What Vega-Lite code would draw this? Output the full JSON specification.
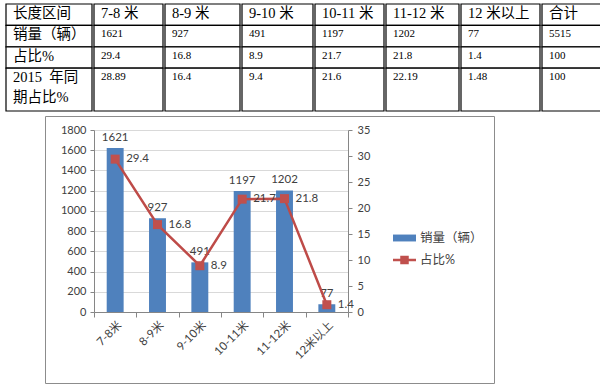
{
  "$schema": "https://vega.github.io/schema/vega-lite/v6.json",
  "padding": {"left": 5, "top": 3, "right": 0, "bottom": 0},
  "background": "#ffffff",
  "spacing": 3,
  "config": {"view": {"stroke": null}, "concat": {"spacing": 0}},
  "datasets": {
    "chart": [
      {"cat": "7-8米", "sales": 1621, "pct": 29.4},
      {"cat": "8-9米", "sales": 927, "pct": 16.8},
      {"cat": "9-10米", "sales": 491, "pct": 8.9},
      {"cat": "10-11米", "sales": 1197, "pct": 21.7},
      {"cat": "11-12米", "sales": 1202, "pct": 21.8},
      {"cat": "12米以上", "sales": 77, "pct": 1.4}
    ],
    "tbl": [
      {"c": 0, "r0": 0, "r1": 1, "t": "长度区间"},
      {"c": 0, "r0": 1, "r1": 2, "t": "销量（辆）"},
      {"c": 0, "r0": 2, "r1": 3, "t": "占比%"},
      {"c": 0, "r0": 3, "r1": 5, "t": "2015\u00a0\u00a0年同\n期占比%"},
      {"c": 1, "r0": 0, "r1": 1, "t": "7-8 米"},
      {"c": 1, "r0": 1, "r1": 2, "t": "1621"},
      {"c": 1, "r0": 2, "r1": 3, "t": "29.4"},
      {"c": 1, "r0": 3, "r1": 5, "t": "28.89"},
      {"c": 2, "r0": 0, "r1": 1, "t": "8-9 米"},
      {"c": 2, "r0": 1, "r1": 2, "t": "927"},
      {"c": 2, "r0": 2, "r1": 3, "t": "16.8"},
      {"c": 2, "r0": 3, "r1": 5, "t": "16.4"},
      {"c": 3, "r0": 0, "r1": 1, "t": "9-10 米"},
      {"c": 3, "r0": 1, "r1": 2, "t": "491"},
      {"c": 3, "r0": 2, "r1": 3, "t": "8.9"},
      {"c": 3, "r0": 3, "r1": 5, "t": "9.4"},
      {"c": 4, "r0": 0, "r1": 1, "t": "10-11 米"},
      {"c": 4, "r0": 1, "r1": 2, "t": "1197"},
      {"c": 4, "r0": 2, "r1": 3, "t": "21.7"},
      {"c": 4, "r0": 3, "r1": 5, "t": "21.6"},
      {"c": 5, "r0": 0, "r1": 1, "t": "11-12 米"},
      {"c": 5, "r0": 1, "r1": 2, "t": "1202"},
      {"c": 5, "r0": 2, "r1": 3, "t": "21.8"},
      {"c": 5, "r0": 3, "r1": 5, "t": "22.19"},
      {"c": 6, "r0": 0, "r1": 1, "t": "12 米以上"},
      {"c": 6, "r0": 1, "r1": 2, "t": "77"},
      {"c": 6, "r0": 2, "r1": 3, "t": "1.4"},
      {"c": 6, "r0": 3, "r1": 5, "t": "1.48"},
      {"c": 7, "r0": 0, "r1": 1, "t": "合计"},
      {"c": 7, "r0": 1, "r1": 2, "t": "5515"},
      {"c": 7, "r0": 2, "r1": 3, "t": "100"},
      {"c": 7, "r0": 3, "r1": 5, "t": "100"}
    ]
  },
  "vconcat": [
    {
      "spacing": 0,
      "hconcat": [
        {"width": 86, "height": 107, "data": {"name": "tbl"}, "transform": [{"filter": "datum.c == 0"}],
         "encoding": {"y": {"field": "r0", "type": "quantitative", "scale": {"domain": [0, 5], "reverse": true, "nice": false, "zero": false}, "axis": null}},
         "layer": [
           {"mark": {"type": "rect", "fill": "#ffffff", "stroke": "#000000", "strokeWidth": 1.2},
            "encoding": {"x": {"datum": 0, "type": "quantitative", "scale": {"domain": [0, 1], "nice": false}, "axis": null}, "x2": {"datum": 1}, "y2": {"field": "r1"}}},
           {"mark": {"type": "text", "align": "left", "baseline": "top", "dx": 7, "dy": 3, "font": "Liberation Serif, Noto Sans CJK SC", "color": "#000000", "lineBreak": "\n", "lineHeight": 20},
            "encoding": {"x": {"datum": 0, "type": "quantitative", "axis": null}, "text": {"field": "t"}, "size": {"condition": {"test": "datum.r0 == 0 || datum.c == 0", "value": 14.5}, "value": 11}}}
         ]},
        {"width": 69, "height": 107, "data": {"name": "tbl"}, "transform": [{"filter": "datum.c == 1"}],
         "encoding": {"y": {"field": "r0", "type": "quantitative", "scale": {"domain": [0, 5], "reverse": true, "nice": false, "zero": false}, "axis": null}},
         "layer": [
           {"mark": {"type": "rect", "fill": "#ffffff", "stroke": "#000000", "strokeWidth": 1.2},
            "encoding": {"x": {"datum": 0, "type": "quantitative", "scale": {"domain": [0, 1], "nice": false}, "axis": null}, "x2": {"datum": 1}, "y2": {"field": "r1"}}},
           {"mark": {"type": "text", "align": "left", "baseline": "top", "dx": 7, "dy": 3, "font": "Liberation Serif, Noto Sans CJK SC", "color": "#000000", "lineBreak": "\n", "lineHeight": 20},
            "encoding": {"x": {"datum": 0, "type": "quantitative", "axis": null}, "text": {"field": "t"}, "size": {"condition": {"test": "datum.r0 == 0 || datum.c == 0", "value": 14.5}, "value": 11}}}
         ]},
        {"width": 75, "height": 107, "data": {"name": "tbl"}, "transform": [{"filter": "datum.c == 2"}],
         "encoding": {"y": {"field": "r0", "type": "quantitative", "scale": {"domain": [0, 5], "reverse": true, "nice": false, "zero": false}, "axis": null}},
         "layer": [
           {"mark": {"type": "rect", "fill": "#ffffff", "stroke": "#000000", "strokeWidth": 1.2},
            "encoding": {"x": {"datum": 0, "type": "quantitative", "scale": {"domain": [0, 1], "nice": false}, "axis": null}, "x2": {"datum": 1}, "y2": {"field": "r1"}}},
           {"mark": {"type": "text", "align": "left", "baseline": "top", "dx": 7, "dy": 3, "font": "Liberation Serif, Noto Sans CJK SC", "color": "#000000", "lineBreak": "\n", "lineHeight": 20},
            "encoding": {"x": {"datum": 0, "type": "quantitative", "axis": null}, "text": {"field": "t"}, "size": {"condition": {"test": "datum.r0 == 0 || datum.c == 0", "value": 14.5}, "value": 11}}}
         ]},
        {"width": 71, "height": 107, "data": {"name": "tbl"}, "transform": [{"filter": "datum.c == 3"}],
         "encoding": {"y": {"field": "r0", "type": "quantitative", "scale": {"domain": [0, 5], "reverse": true, "nice": false, "zero": false}, "axis": null}},
         "layer": [
           {"mark": {"type": "rect", "fill": "#ffffff", "stroke": "#000000", "strokeWidth": 1.2},
            "encoding": {"x": {"datum": 0, "type": "quantitative", "scale": {"domain": [0, 1], "nice": false}, "axis": null}, "x2": {"datum": 1}, "y2": {"field": "r1"}}},
           {"mark": {"type": "text", "align": "left", "baseline": "top", "dx": 7, "dy": 3, "font": "Liberation Serif, Noto Sans CJK SC", "color": "#000000", "lineBreak": "\n", "lineHeight": 20},
            "encoding": {"x": {"datum": 0, "type": "quantitative", "axis": null}, "text": {"field": "t"}, "size": {"condition": {"test": "datum.r0 == 0 || datum.c == 0", "value": 14.5}, "value": 11}}}
         ]},
        {"width": 69, "height": 107, "data": {"name": "tbl"}, "transform": [{"filter": "datum.c == 4"}],
         "encoding": {"y": {"field": "r0", "type": "quantitative", "scale": {"domain": [0, 5], "reverse": true, "nice": false, "zero": false}, "axis": null}},
         "layer": [
           {"mark": {"type": "rect", "fill": "#ffffff", "stroke": "#000000", "strokeWidth": 1.2},
            "encoding": {"x": {"datum": 0, "type": "quantitative", "scale": {"domain": [0, 1], "nice": false}, "axis": null}, "x2": {"datum": 1}, "y2": {"field": "r1"}}},
           {"mark": {"type": "text", "align": "left", "baseline": "top", "dx": 7, "dy": 3, "font": "Liberation Serif, Noto Sans CJK SC", "color": "#000000", "lineBreak": "\n", "lineHeight": 20},
            "encoding": {"x": {"datum": 0, "type": "quantitative", "axis": null}, "text": {"field": "t"}, "size": {"condition": {"test": "datum.r0 == 0 || datum.c == 0", "value": 14.5}, "value": 11}}}
         ]},
        {"width": 73, "height": 107, "data": {"name": "tbl"}, "transform": [{"filter": "datum.c == 5"}],
         "encoding": {"y": {"field": "r0", "type": "quantitative", "scale": {"domain": [0, 5], "reverse": true, "nice": false, "zero": false}, "axis": null}},
         "layer": [
           {"mark": {"type": "rect", "fill": "#ffffff", "stroke": "#000000", "strokeWidth": 1.2},
            "encoding": {"x": {"datum": 0, "type": "quantitative", "scale": {"domain": [0, 1], "nice": false}, "axis": null}, "x2": {"datum": 1}, "y2": {"field": "r1"}}},
           {"mark": {"type": "text", "align": "left", "baseline": "top", "dx": 7, "dy": 3, "font": "Liberation Serif, Noto Sans CJK SC", "color": "#000000", "lineBreak": "\n", "lineHeight": 20},
            "encoding": {"x": {"datum": 0, "type": "quantitative", "axis": null}, "text": {"field": "t"}, "size": {"condition": {"test": "datum.r0 == 0 || datum.c == 0", "value": 14.5}, "value": 11}}}
         ]},
        {"width": 79, "height": 107, "data": {"name": "tbl"}, "transform": [{"filter": "datum.c == 6"}],
         "encoding": {"y": {"field": "r0", "type": "quantitative", "scale": {"domain": [0, 5], "reverse": true, "nice": false, "zero": false}, "axis": null}},
         "layer": [
           {"mark": {"type": "rect", "fill": "#ffffff", "stroke": "#000000", "strokeWidth": 1.2},
            "encoding": {"x": {"datum": 0, "type": "quantitative", "scale": {"domain": [0, 1], "nice": false}, "axis": null}, "x2": {"datum": 1}, "y2": {"field": "r1"}}},
           {"mark": {"type": "text", "align": "left", "baseline": "top", "dx": 7, "dy": 3, "font": "Liberation Serif, Noto Sans CJK SC", "color": "#000000", "lineBreak": "\n", "lineHeight": 20},
            "encoding": {"x": {"datum": 0, "type": "quantitative", "axis": null}, "text": {"field": "t"}, "size": {"condition": {"test": "datum.r0 == 0 || datum.c == 0", "value": 14.5}, "value": 11}}}
         ]},
        {"width": 66, "height": 107, "data": {"name": "tbl"}, "transform": [{"filter": "datum.c == 7"}],
         "encoding": {"y": {"field": "r0", "type": "quantitative", "scale": {"domain": [0, 5], "reverse": true, "nice": false, "zero": false}, "axis": null}},
         "layer": [
           {"mark": {"type": "rect", "fill": "#ffffff", "stroke": "#000000", "strokeWidth": 1.2},
            "encoding": {"x": {"datum": 0, "type": "quantitative", "scale": {"domain": [0, 1], "nice": false}, "axis": null}, "x2": {"datum": 1}, "y2": {"field": "r1"}}},
           {"mark": {"type": "text", "align": "left", "baseline": "top", "dx": 7, "dy": 3, "font": "Liberation Serif, Noto Sans CJK SC", "color": "#000000", "lineBreak": "\n", "lineHeight": 20},
            "encoding": {"x": {"datum": 0, "type": "quantitative", "axis": null}, "text": {"field": "t"}, "size": {"condition": {"test": "datum.r0 == 0 || datum.c == 0", "value": 14.5}, "value": 11}}}
         ]}
      ]
    },
    {
      "spacing": 0,
      "hconcat": [
        {"width": 38, "height": 10, "data": {"values": []}, "mark": "rule", "encoding": {}},
        {
          "width": 449,
          "height": 267,
          "view": {"stroke": "#8c8c8c", "strokeWidth": 1, "fill": "#ffffff"},
          "data": {"name": "chart"},
          "encoding": {
            "x": {"field": "cat", "type": "nominal", "sort": null,
                  "scale": {"range": [49, 303], "paddingInner": 0, "paddingOuter": 0},
                  "axis": {"orient": "bottom", "offset": -71, "title": null, "labelAngle": -45, "tickBand": "extent", "tickSize": 5,
                           "domainColor": "#868686", "tickColor": "#868686", "labelFont": "Lato, Noto Sans CJK SC", "labelFontSize": 11.5,
                           "labelColor": "#404040", "labelPadding": 2, "grid": false}}
          },
          "layer": [
            {
              "encoding": {
                "y": {"field": "sales", "type": "quantitative",
                      "scale": {"domain": [0, 1800], "range": [196, 14], "nice": false, "zero": true},
                      "axis": {"orient": "left", "offset": -49, "title": null, "values": [0, 200, 400, 600, 800, 1000, 1200, 1400, 1600, 1800], "format": "d",
                               "grid": true, "gridColor": "#d9d9d9", "tickSize": 4, "labelPadding": 4, "domainColor": "#868686", "tickColor": "#868686",
                               "labelFont": "Lato", "labelFontSize": 11, "labelColor": "#404040"}}
              },
              "layer": [
                {"mark": {"type": "bar", "width": {"band": 0.4}},
                 "encoding": {"fill": {"datum": "销量（辆）", "scale": {"range": ["#4F81BD"]},
                   "legend": {"orient": "none", "legendX": 386, "legendY": 221.5, "title": null, "padding": 0,
                              "symbolType": "M-1,-0.3H1V0.3H-1Z", "symbolSize": 529, "labelOffset": 3,
                              "labelFont": "Lato, Noto Sans CJK SC", "labelFontSize": 12.5, "labelColor": "#404040"}}}},
                {"mark": {"type": "text", "baseline": "bottom", "dy": -5, "font": "Lato", "fontSize": 11.5, "color": "#404040"},
                 "encoding": {"text": {"field": "sales"}}}
              ]
            },
            {
              "encoding": {
                "y": {"field": "pct", "type": "quantitative",
                      "scale": {"domain": [0, 35], "range": [196, 14], "nice": false, "zero": true},
                      "axis": {"orient": "right", "offset": -146, "title": null, "values": [0, 5, 10, 15, 20, 25, 30, 35],
                               "grid": false, "tickSize": 4, "labelPadding": 5, "domainColor": "#868686", "tickColor": "#868686",
                               "labelFont": "Lato", "labelFontSize": 11, "labelColor": "#404040"}}
              },
              "layer": [
                {"mark": {"type": "line", "stroke": "#BE4B48", "strokeWidth": 2.5}},
                {"mark": {"type": "point", "shape": "square", "filled": true, "size": 81, "opacity": 1},
                 "encoding": {"color": {"datum": "占比%", "scale": {"range": ["#C0504D"]},
                   "legend": {"orient": "none", "legendX": 386, "legendY": 243.5, "title": null, "padding": 0,
                              "symbolType": "M-1,-0.11H1V0.11H-1Z M-0.37,-0.37H0.37V0.37H-0.37Z", "symbolSize": 529, "symbolOpacity": 1, "labelOffset": 3,
                              "labelFont": "Lato, Noto Sans CJK SC", "labelFontSize": 12.5, "labelColor": "#404040"}}}},
                {"mark": {"type": "text", "align": "left", "baseline": "middle", "dx": 11, "font": "Lato", "fontSize": 11.5, "color": "#404040"},
                 "encoding": {"text": {"field": "pct"}}}
              ]
            }
          ],
          "resolve": {"scale": {"y": "independent"}}
        }
      ]
    }
  ]
}
